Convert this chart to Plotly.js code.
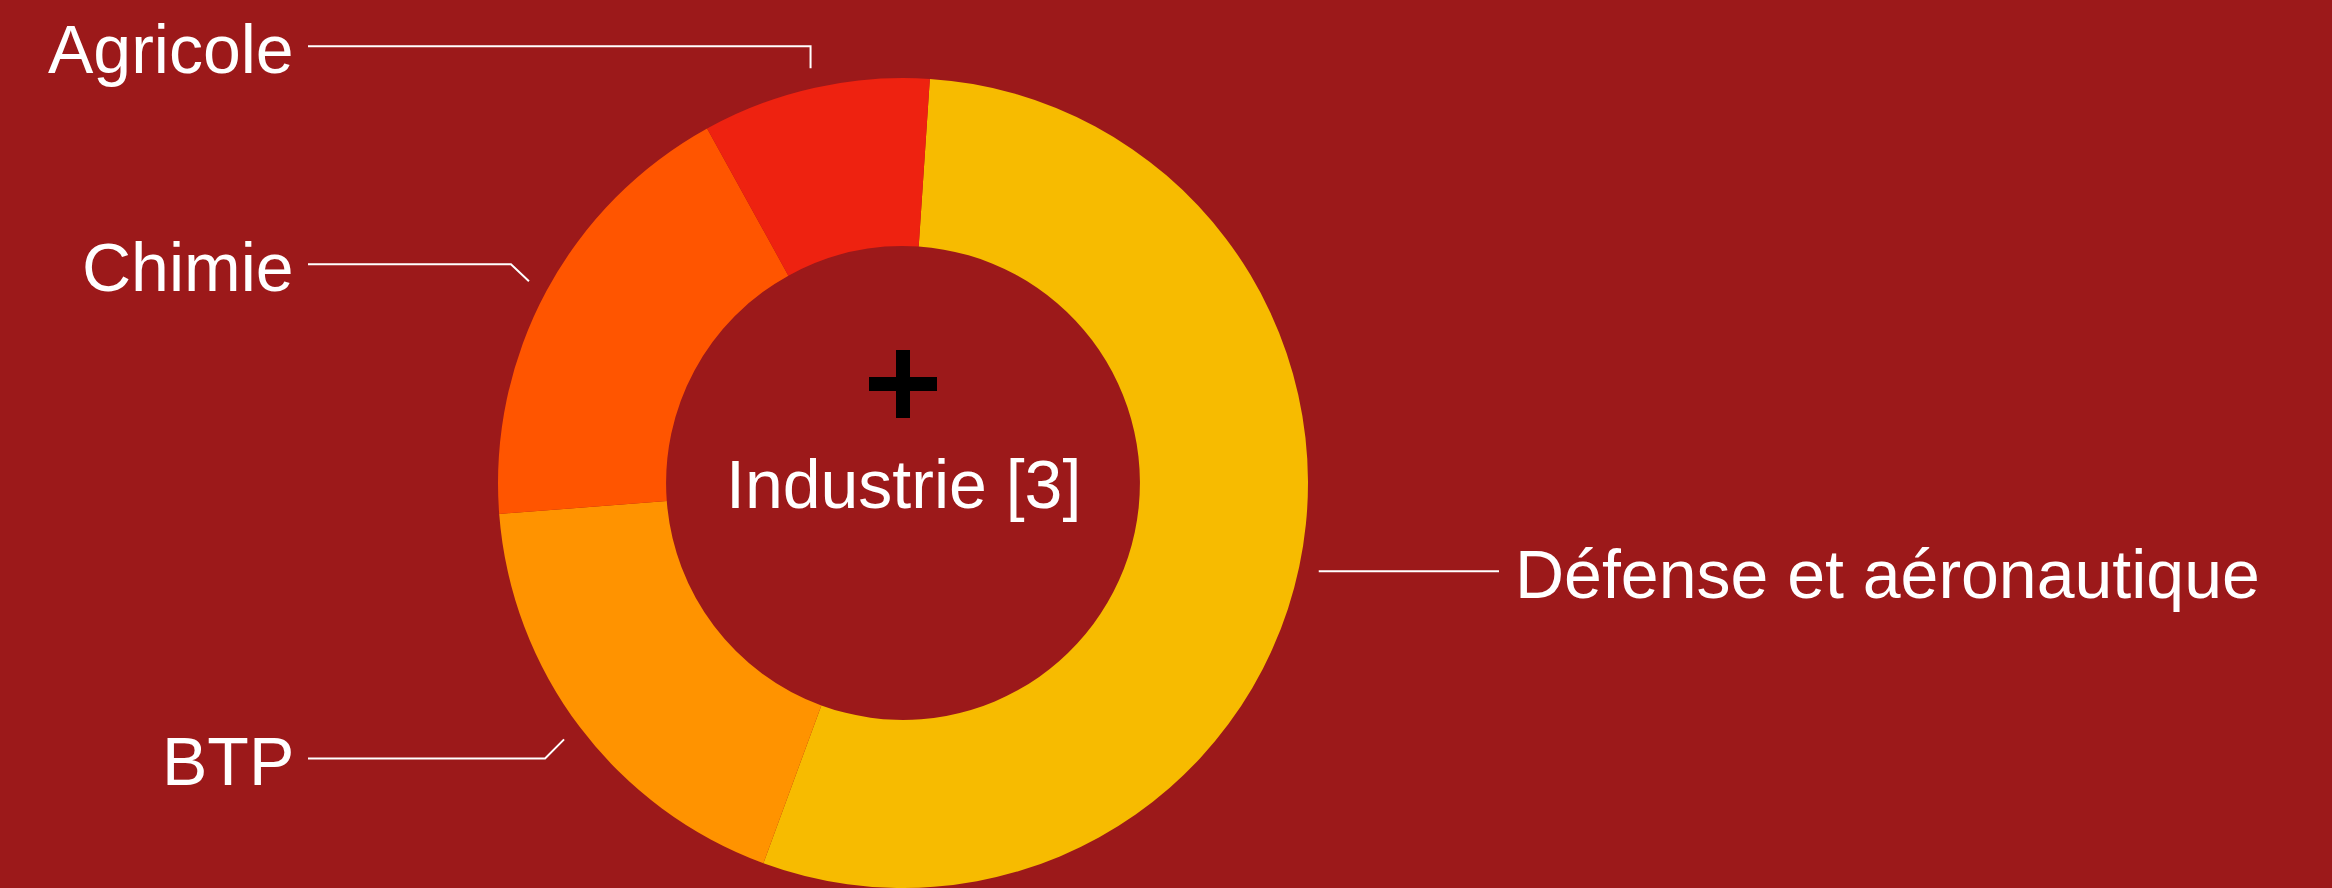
<!DOCTYPE html>
<html>
<head>
<meta charset="utf-8">
<script src="https://cdn.plot.ly/plotly-3.0.1.min.js"></script>
<style>
  html, body { margin: 0; padding: 0; background: #9c191a; }
  #chart { width: 2332px; height: 888px; }
</style>
</head>
<body>
<div id="chart"></div>
<script>
// data
var sectors = ['Défense et aéronautique', 'BTP', 'Chimie', 'Agricole'];
var counts = [6, 2, 2, 1];
var sectorColors = ['#f7bb00', '#ff9300', '#ff5500', '#ee2210'];
var centerLabel = 'Industrie [3]';

// layout bits for the leader lines (px)
var labelShiftY = [0, 19, -17, -22];
var bendShiftX = [0, -19, -18, 0];

var W = 2332, H = 888;
var R = 405, cx = 903, cy = H - R;
var rotation = 3.8;
var leftLineX = 308, rightLineX = 1499;
var font = 'Liberation Sans, Arial, Helvetica, sans-serif';
var textNudge = 3;

function px(x) { return x / W; }
function py(y) { return 1 - y / H; }

var trace = {
    type: 'pie',
    labels: sectors,
    values: counts,
    sort: false,
    direction: 'clockwise',
    rotation: rotation,
    hole: 0.585,
    textinfo: 'none',
    hoverinfo: 'none',
    showlegend: false,
    marker: { colors: sectorColors, line: { width: 0 } },
    domain: { x: [px(cx - R), px(cx + R)], y: [0, (2 * R) / H] }
};

var shapes = [];
var annotations = [];

var total = counts.reduce(function (a, b) { return a + b; }, 0);
var start = rotation;
counts.forEach(function (v, i) {
    var span = v / total * 360;
    var mid = (start + span / 2) * Math.PI / 180;
    start += span;

    var ex = cx + (R + 20) * Math.sin(mid);
    var ey = cy - (R + 20) * Math.cos(mid);
    var by = ey + labelShiftY[i];
    var bx = ex + bendShiftX[i];
    var onRight = Math.sin(mid) > 0;
    var lineX = onRight ? rightLineX : leftLineX;

    shapes.push({
        type: 'path', xref: 'paper', yref: 'paper',
        path: 'M' + px(lineX) + ',' + py(by) + ' L' + px(bx) + ',' + py(by) + ' L' + px(ex) + ',' + py(ey),
        line: { color: '#ffffff', width: 2 }
    });

    annotations.push({
        xref: 'paper', yref: 'paper',
        x: px(onRight ? lineX + 15 : lineX - 13),
        y: py(by + textNudge),
        xanchor: onRight ? 'left' : 'right',
        yanchor: 'middle',
        text: sectors[i],
        showarrow: false,
        borderpad: 0,
        font: { family: font, size: 68, color: '#ffffff' }
    });
});

annotations.push({
    xref: 'paper', yref: 'paper',
    x: px(cx), y: py(cy + 1),
    xanchor: 'center', yanchor: 'middle',
    text: centerLabel,
    showarrow: false,
    borderpad: 0,
    font: { family: font, size: 68, color: '#ffffff' }
});

// plus icon above the centre label
var plusY = cy - 99, half = 34, thick = 7;
shapes.push({
    type: 'rect', xref: 'paper', yref: 'paper',
    x0: px(cx - thick), x1: px(cx + thick), y0: py(plusY - half), y1: py(plusY + half),
    fillcolor: '#000000', line: { width: 0 }
});
shapes.push({
    type: 'rect', xref: 'paper', yref: 'paper',
    x0: px(cx - half), x1: px(cx + half), y0: py(plusY - thick), y1: py(plusY + thick),
    fillcolor: '#000000', line: { width: 0 }
});

var layout = {
    width: W,
    height: H,
    margin: { l: 0, r: 0, t: 0, b: 0 },
    paper_bgcolor: '#9c191a',
    plot_bgcolor: '#9c191a',
    shapes: shapes,
    annotations: annotations
};

Plotly.newPlot('chart', [trace], layout, { displayModeBar: false, staticPlot: true });
</script>
</body>
</html>
